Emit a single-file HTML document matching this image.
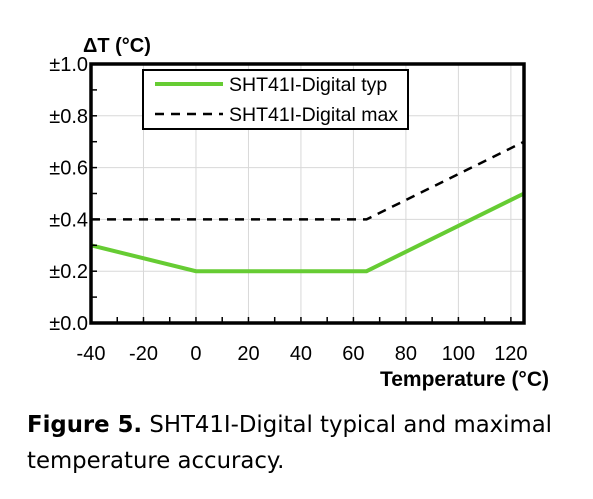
<!DOCTYPE html>
<html><head><meta charset="utf-8"><style>
body{margin:0;background:#fff;width:593px;height:499px;overflow:hidden;font-family:"Liberation Sans",sans-serif;}
svg text{font-family:"Liberation Sans",Arial,sans-serif;}
.cap{position:absolute;left:27px;top:407px;font-family:"DejaVu Sans","Liberation Sans",sans-serif;font-size:22.8px;line-height:36px;color:#000;white-space:nowrap;}
</style></head><body>
<svg width="593" height="499" style="position:absolute;left:0;top:0">
<g id="grid"></g>
<g id="series"></g>
<g id="axes"></g>
<g>
<rect x="143" y="70" width="265" height="59" fill="#fff" stroke="#000" stroke-width="2"/>
<line x1="155" y1="84" x2="223" y2="84" stroke="#66cc33" stroke-width="4"/>
<text x="229" y="91" font-size="19.5">SHT41I-Digital typ</text>
<line x1="155" y1="114" x2="223" y2="114" stroke="#000" stroke-width="2.5" stroke-dasharray="9,7"/>
<text x="229" y="121" font-size="19.5">SHT41I-Digital max</text>
</g>
<text x="83" y="52" font-size="20" font-weight="bold">ΔT (°C)</text>
<text x="549" y="386" font-size="21" font-weight="bold" text-anchor="end">Temperature (°C)</text>
</svg>
<div class="cap"><b>Figure 5.</b> SHT41I-Digital typical and maximal<br>temperature accuracy.</div>
<script>
const xTicks=[-40,-20,0,20,40,60,80,100,120];
const yTicks=[0,0.2,0.4,0.6,0.8,1.0];
const yLabels=["±0.0","±0.2","±0.4","±0.6","±0.8","±1.0"];
const typX=[-40,0,65,125];
const typY=[0.3,0.2,0.2,0.5];
const maxX=[-40,65,125];
const maxY=[0.4,0.4,0.7];
const L=91,R=524,T=64,B=323;
const sx=v=>L+(v+40)/165*(R-L);
const sy=v=>B-v*(B-T);
const NS="http://www.w3.org/2000/svg";
function mk(p,tag,at){const e=document.createElementNS(NS,tag);for(const k in at)e.setAttribute(k,at[k]);p.appendChild(e);return e;}
const grid=document.getElementById('grid'),ax=document.getElementById('axes'),se=document.getElementById('series');
xTicks.forEach(v=>{const l=mk(grid,'line',{x1:sx(v),x2:sx(v),y1:T,y2:B,stroke:'#d8d8d8','stroke-width':1});


const t=mk(ax,'text',{x:sx(v),y:B+37,'font-size':20,'text-anchor':'middle'});t.textContent=v;

});
for(let v=-40;v<=120;v+=10){mk(ax,'line',{x1:sx(v),x2:sx(v),y1:B,y2:B-6,stroke:'#000','stroke-width':1.5});}
yTicks.forEach((v,i)=>{const l=mk(grid,'line',{x1:L,x2:R,y1:sy(v),y2:sy(v),stroke:'#d8d8d8','stroke-width':1});


const t=mk(ax,'text',{x:L-3,y:sy(v)+7,'font-size':20,'text-anchor':'end'});t.textContent=yLabels[i];

});
for(let v=0;v<=1.0001;v+=0.1){mk(ax,'line',{x1:L,x2:L+6,y1:sy(v),y2:sy(v),stroke:'#000','stroke-width':1.5});}
const fr=mk(ax,'rect',{x:L,y:T,width:R-L,height:B-T,fill:'none',stroke:'#000','stroke-width':3.5});


const p1=mk(se,'polyline',{points:maxX.map((x,i)=>sx(x)+','+sy(maxY[i])).join(' '),fill:'none',stroke:'#000','stroke-width':2.5,'stroke-dasharray':'9,7'});


const p2=mk(se,'polyline',{points:typX.map((x,i)=>sx(x)+','+sy(typY[i])).join(' '),fill:'none',stroke:'#66cc33','stroke-width':4});


</script>
</body></html>
